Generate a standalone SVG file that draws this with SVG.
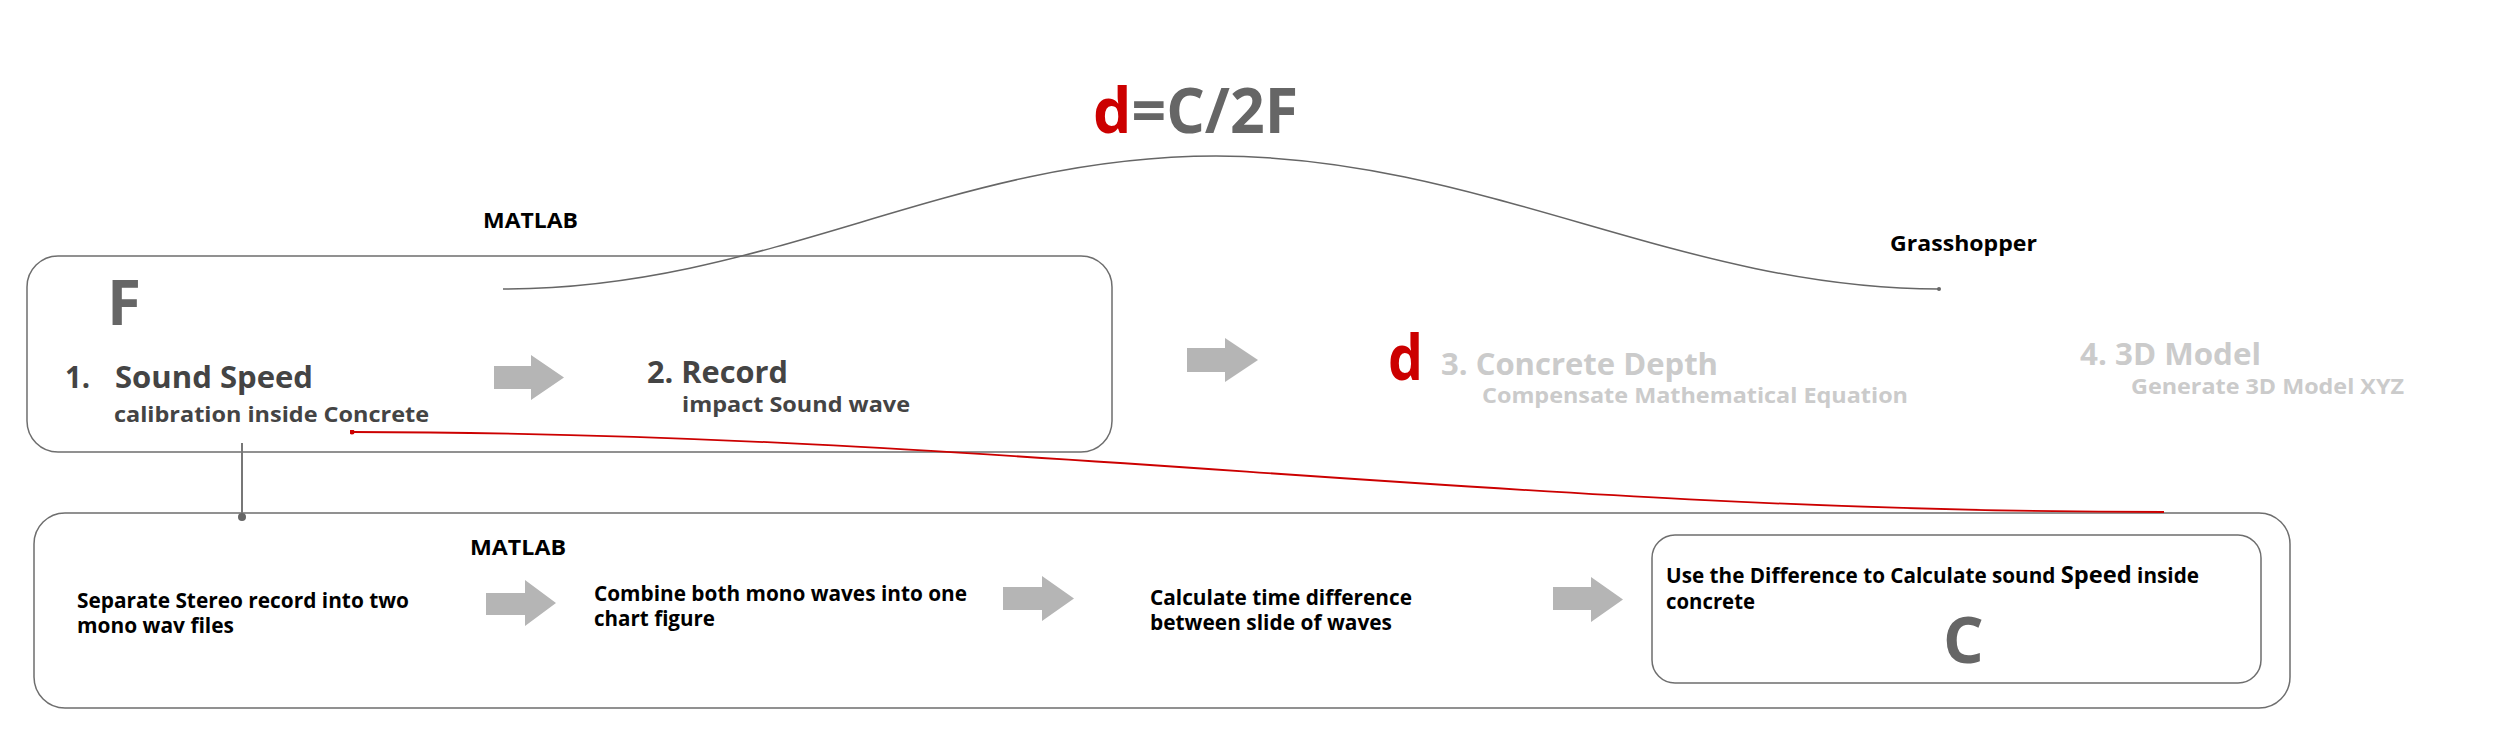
<svg xmlns="http://www.w3.org/2000/svg" width="2500" height="742" viewBox="0 0 2500 742">
<style>
text{font-family:"Open Sans","Noto Sans","Liberation Sans",sans-serif;font-weight:700}
.box{fill:none;stroke:#6e6e6e;stroke-width:1.5}
.arrow{fill:#b5b5b5}
.lbl{font-size:21px;fill:#000}
.head{fill:#444}
.sub{fill:#444;font-size:21px}
.big{fill:#666}
.faint{fill:#cbcbcb}
.red{fill:#cc0000}
.txt{font-size:21px;fill:#000}
</style>
<defs>
<marker id="dot" viewBox="0 0 10 10" refX="5" refY="5" markerWidth="4" markerHeight="4" markerUnits="userSpaceOnUse"><circle cx="5" cy="5" r="5" fill="#666"/></marker>
<marker id="reddot" viewBox="0 0 10 10" refX="5" refY="5" markerWidth="5" markerHeight="5" markerUnits="userSpaceOnUse"><circle cx="5" cy="5" r="5" fill="#cc0000"/></marker>
<marker id="bigdot" viewBox="0 0 10 10" refX="5" refY="5" markerWidth="8" markerHeight="8" markerUnits="userSpaceOnUse"><circle cx="5" cy="5" r="5" fill="#666"/></marker>
</defs>

<text x="1093" y="133" font-size="63" textLength="205" lengthAdjust="spacingAndGlyphs"><tspan class="red">d</tspan><tspan class="big">=C/2F</tspan></text>

<g id="label-matlab-top"><text class="lbl" x="483" y="228" textLength="95" lengthAdjust="spacingAndGlyphs">MATLAB</text></g>
<g id="label-grasshopper"><text class="lbl" x="1890" y="251" font-size="22" textLength="147" lengthAdjust="spacingAndGlyphs">Grasshopper</text></g>

<g id="node-main">
<rect class="box" x="27" y="256" width="1085" height="196" rx="31" ry="31"/>
<text class="big" x="107" y="325" font-size="62">F</text>
</g>

<g id="node-step1">
<text class="head" x="65" y="388" font-size="30" textLength="25" lengthAdjust="spacingAndGlyphs">1.</text>
<text class="head" x="115" y="388" font-size="30" textLength="198" lengthAdjust="spacingAndGlyphs">Sound Speed</text>
<text class="sub" x="114" y="422" textLength="315" lengthAdjust="spacingAndGlyphs">calibration inside Concrete</text>
</g>

<g id="node-step2">
<text class="head" x="647" y="383" font-size="31" textLength="141" lengthAdjust="spacingAndGlyphs">2. Record</text>
<text class="sub" x="682" y="412" textLength="228" lengthAdjust="spacingAndGlyphs">impact Sound wave</text>
</g>

<g id="node-step3">
<text class="red" x="1388" y="380" font-size="63" textLength="35" lengthAdjust="spacingAndGlyphs">d</text>
<text class="faint" x="1441" y="375" font-size="31" textLength="277" lengthAdjust="spacingAndGlyphs">3. Concrete Depth</text>
<text class="faint" x="1482" y="403" font-size="22" textLength="426" lengthAdjust="spacingAndGlyphs">Compensate Mathematical Equation</text>
</g>

<g id="node-step4">
<text class="faint" x="2080" y="365" font-size="31" textLength="181" lengthAdjust="spacingAndGlyphs">4. 3D Model</text>
<text class="faint" x="2131" y="394" font-size="22" textLength="273" lengthAdjust="spacingAndGlyphs">Generate 3D Model XYZ</text>
</g>

<g id="node-calibration">
<rect class="box" x="34" y="513" width="2256" height="195" rx="31" ry="31"/>
<text class="lbl" x="470" y="555" font-size="20" textLength="96" lengthAdjust="spacingAndGlyphs">MATLAB</text>
</g>

<g id="node-separate">
<text class="txt" x="77" y="608" textLength="332" lengthAdjust="spacingAndGlyphs">Separate Stereo record into two</text>
<text class="txt" x="77" y="633" textLength="157" lengthAdjust="spacingAndGlyphs">mono wav files</text>
</g>

<g id="node-combine">
<text class="txt" x="594" y="601" textLength="373" lengthAdjust="spacingAndGlyphs">Combine both mono waves into one</text>
<text class="txt" x="594" y="626" textLength="121" lengthAdjust="spacingAndGlyphs">chart figure</text>
</g>

<g id="node-calculate">
<text class="txt" x="1150" y="605" textLength="262" lengthAdjust="spacingAndGlyphs">Calculate time difference</text>
<text class="txt" x="1150" y="630" textLength="242" lengthAdjust="spacingAndGlyphs">between slide of waves</text>
</g>

<g id="node-speed">
<rect class="box" x="1652" y="535" width="609" height="148" rx="23" ry="23"/>
<text class="txt" x="1666" y="583" textLength="533" lengthAdjust="spacingAndGlyphs">Use the Difference to Calculate sound <tspan font-size="24">Speed</tspan> inside</text>
<text class="txt" x="1666" y="609" textLength="89" lengthAdjust="spacingAndGlyphs">concrete</text>
<text class="big" x="1943" y="663" font-size="64">C</text>
</g>

<g id="connectors">
<polygon class="arrow" points="494,366 531,366 531,355 564,377.5 531,400 531,389 494,389"/>
<polygon class="arrow" points="1187,348 1225,348 1225,338 1258,360 1225,382 1225,372 1187,372"/>
<polygon class="arrow" points="486,593 525,593 525,580 556,603 525,626 525,615 486,615"/>
<polygon class="arrow" points="1003,587 1042,587 1042,576 1074,598.5 1042,621 1042,610 1003,610"/>
<polygon class="arrow" points="1553,587 1591,587 1591,577 1623,599.5 1591,622 1591,610 1553,610"/>
<path d="M503,289 C770,289 950,156 1216,156 C1480,156 1680,289 1939,289" fill="none" stroke="#666" stroke-width="1.5" marker-end="url(#dot)"/>
<path d="M352,432 C1000,432 1500,512 2164,512" fill="none" stroke="#cc0000" stroke-width="1.8" marker-start="url(#reddot)"/>
<path d="M242,443 L242,517" fill="none" stroke="#777" stroke-width="2" marker-end="url(#bigdot)"/>
</g>
</svg>
